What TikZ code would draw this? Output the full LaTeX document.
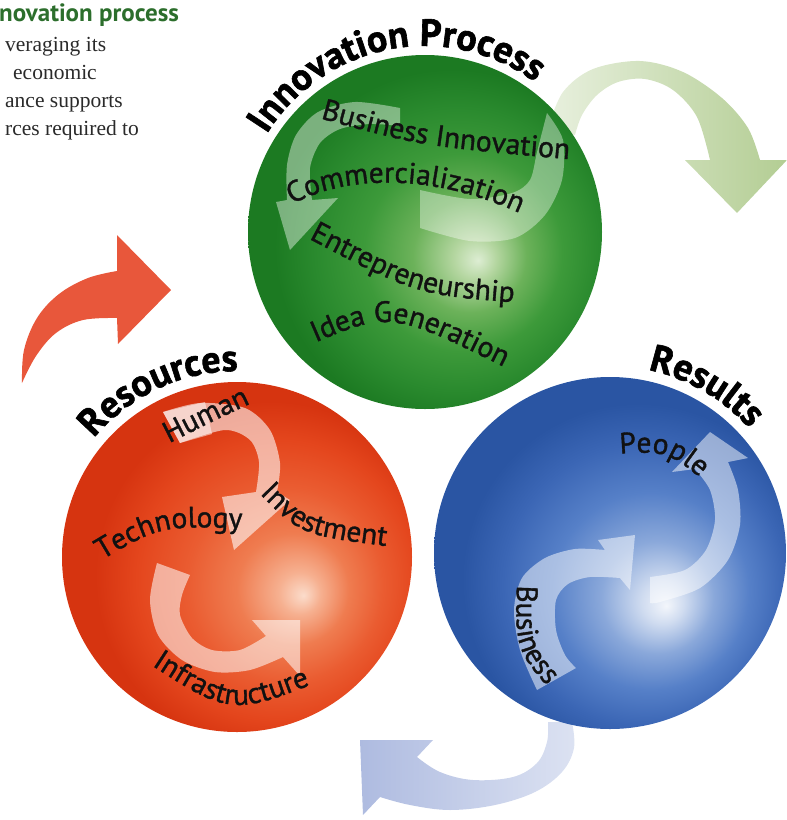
\documentclass[tikz,border=0pt]{standalone}
\usepackage{fontspec}
\setmainfont{Liberation Serif}
\newfontfamily\labelfamily{PT Sans}[FakeBold=1.2]
\newfontfamily\titlefamily{PT Sans}[FakeBold=1.6]
\newfontfamily\headfamily{PT Sans}
\usetikzlibrary{decorations.text}

% sphere colours
\definecolor{gA}{HTML}{DDEDD3}\definecolor{gB}{HTML}{B4D6A0}\definecolor{gC}{HTML}{6CB25A}
\definecolor{gD}{HTML}{3D9A3A}\definecolor{gE}{HTML}{2A8A2E}\definecolor{gF}{HTML}{1C7A22}
\definecolor{rA}{HTML}{FBDCCB}\definecolor{rB}{HTML}{F6B090}\definecolor{rC}{HTML}{EF7C50}
\definecolor{rD}{HTML}{EA5C31}\definecolor{rE}{HTML}{E4461D}\definecolor{rF}{HTML}{D63410}
\definecolor{bA}{HTML}{F3F6FB}\definecolor{bB}{HTML}{D0DCF0}\definecolor{bC}{HTML}{8AA8DA}
\definecolor{bD}{HTML}{5680C8}\definecolor{bE}{HTML}{3B66B5}\definecolor{bF}{HTML}{2A55A3}
% outer arrows and heading
\definecolor{ogL}{HTML}{E8F0DE}\definecolor{ogR}{HTML}{B3CD93}
\definecolor{orr}{HTML}{E8573B}
\definecolor{obL}{HTML}{AEBBE0}\definecolor{obR}{HTML}{DCE2F2}
\definecolor{headgreen}{HTML}{2C6E2C}
\definecolor{bodytext}{HTML}{2A2A2A}
\definecolor{labelink}{HTML}{111111}

% radial shadings: the sphere rim sits at 25bp, the highlight is off-centre
\pgfdeclareradialshading{greenball}{\pgfpoint{7.5bp}{-4bp}}{color(0bp)=(gA); color(3bp)=(gB); color(8bp)=(gC); color(14bp)=(gD); color(20bp)=(gE); color(25bp)=(gF); color(50bp)=(gF)}
\pgfdeclareradialshading{redball}{\pgfpoint{9.5bp}{-5.5bp}}{color(0bp)=(rA); color(3bp)=(rB); color(8bp)=(rC); color(14bp)=(rD); color(20bp)=(rE); color(25bp)=(rF); color(50bp)=(rF)}
\pgfdeclareradialshading{blueball}{\pgfpoint{8bp}{-7.5bp}}{color(0bp)=(bA); color(3bp)=(bB); color(8bp)=(bC); color(14bp)=(bD); color(20bp)=(bE); color(25bp)=(bF); color(50bp)=(bF)}

\newcommand\mylabelfont{\labelfamily\fontsize{29.5pt}{31pt}\selectfont}
\newcommand\mytitlefont{\titlefamily\bfseries\fontsize{38pt}{40pt}\selectfont}

\begin{document}
\begin{tikzpicture}[x=1pt,y=1pt,
  inarrow/.style={fill=white, fill opacity=#1},
  inarrow/.default=0.5,
  lbltext/.style={decorate, decoration={text along path, text align=center, text color=labelink, text={|\mylabelfont|#1}}},
  ttltext/.style={decorate, decoration={text along path, text align=center, text={|\mytitlefont|#1}}},
  bodyline/.style={anchor=base west, inner sep=0pt, text=bodytext, font=\fontsize{21.5pt}{24pt}\selectfont}]

\useasboundingbox (0,0) rectangle (787,-820);

\coordinate (G) at (425,-232);
\coordinate (R) at (237,-557);
\coordinate (B) at (610,-553);

% text block at the top left
\node[anchor=base west, inner sep=0pt, text=headgreen, font=\headfamily\bfseries\fontsize{25pt}{27pt}\selectfont] (head) at (-1,-21) {novation process};
\node[bodyline] (l1) at (5,-51) {veraging its};
\node[bodyline] (l2) at (13,-79) {economic};
\node[bodyline] (l3) at (5,-107) {ance supports};
\node[bodyline] (l4) at (5,-135) {rces required to};

% outer cycle arrows
\shade[left color=ogL, right color=ogR]
  plot[smooth, tension=0.55] coordinates {(548,-128) (563,-92) (593,-69) (640,-61) (683,-72) (722,-98) (748,-128) (760,-160)}
  -- (787,-160) -- (737,-213) -- (685,-160) -- (710,-160)
  -- plot[smooth, tension=0.55] coordinates {(710,-160) (697,-117) (673,-90) (645,-79) (618,-82) (597,-95) (582,-115) (575,-135)}
  -- cycle;

\fill[orr]
  plot[smooth, tension=0.6] coordinates {(22,-383) (24,-350) (37,-318) (59,-294) (88,-278) (117,-271)}
  -- (117,-235) -- (171,-290) -- (118,-344) -- (117,-318)
  -- plot[smooth, tension=0.6] coordinates {(117,-318) (83,-320) (56,-333) (36,-356) (22,-383)}
  -- cycle;

\shade[left color=obL, right color=obR]
  (360,-740) -- (433,-740) -- (417,-757)
  -- plot[smooth, tension=0.6] coordinates {(417,-757) (440,-772) (473,-780) (513,-777) (537,-763) (547,-742) (548,-722)}
  -- (572,-722)
  -- plot[smooth, tension=0.6] coordinates {(572,-722) (574,-748) (562,-772) (535,-792) (495,-805) (450,-810) (410,-805) (380,-797)}
  -- (363,-815) -- cycle;

% the three spheres
\shade[shading=greenball] (G) circle[radius=177];
\shade[shading=redball] (R) circle[radius=175];
\shade[shading=blueball] (B) circle[radius=176];

% translucent arrows inside the green sphere
\begin{scope}
  \clip (G) circle[radius=177];
  \fill[inarrow=0.42]
    plot[smooth] coordinates {(400,-108) (355,-102) (318,-112) (296,-135) (287,-165) (287,-200)}
    -- (276,-202) -- (290,-250) -- (338,-198) -- (312,-200)
    -- plot[smooth] coordinates {(312,-200) (310,-168) (320,-143) (340,-129) (370,-124) (400,-126)}
    -- cycle;
  \fill[inarrow=0.38]
    plot[smooth] coordinates {(547,-113) (563,-140) (562,-180) (545,-215) (515,-238) (470,-241) (420,-228)}
    -- (420,-190)
    -- plot[smooth] coordinates {(420,-190) (470,-199) (512,-193) (530,-180) (537,-152) (547,-113)}
    -- cycle;
\end{scope}

% translucent arrows inside the red sphere
\begin{scope}
  \clip (R) circle[radius=175];
  \fill[inarrow=0.58]
    plot[smooth] coordinates {(163,-412) (200,-403) (245,-408) (270,-430) (280,-463) (277,-492)}
    -- (290,-500) -- (234,-550) -- (222,-497) -- (256,-492)
    -- plot[smooth] coordinates {(256,-492) (259,-462) (250,-440) (225,-430) (180,-443)}
    -- cycle;
  % brighter tail under the first word
  \fill[inarrow=0.5] (163,-412) -- (205,-402) -- (212,-434) -- (180,-443) -- cycle;
  \fill[inarrow=0.55]
    plot[smooth] coordinates {(157,-563) (150,-600) (158,-635) (182,-660) (215,-672) (250,-670) (283,-657)}
    -- (300,-676) -- (300,-620) -- (252,-620) -- (266,-636)
    -- plot[smooth] coordinates {(266,-636) (240,-650) (212,-650) (192,-638) (180,-615) (182,-595) (190,-575)}
    -- cycle;
\end{scope}

% translucent arrows inside the blue sphere
\begin{scope}
  \clip (B) circle[radius=176];
  \fill[inarrow=0.5]
    plot[smooth] coordinates {(537,-690) (520,-650) (514,-610) (522,-578) (545,-558) (575,-549) (605,-550)}
    -- (598,-540) -- (635,-535) -- (630,-590) -- (620,-578)
    -- plot[smooth] coordinates {(620,-578) (590,-577) (568,-584) (556,-600) (556,-630) (565,-655) (576,-668)}
    -- cycle;
  \fill[inarrow=0.5]
    plot[smooth] coordinates {(650,-577) (685,-570) (706,-550) (715,-520) (710,-490) (695,-469)}
    -- (672,-472) -- (710,-432) -- (748,-458) -- (728,-462)
    -- plot[smooth] coordinates {(728,-462) (738,-490) (740,-525) (728,-560) (700,-588) (660,-602) (650,-603)}
    -- cycle;
\end{scope}

% sphere titles along arcs
\path[ttltext=Innovation Process] ([shift={(425,-232)}]172:186) arc[start angle=172, end angle=30, radius=186];
\path[ttltext=Resources] ([shift={(237,-557)}]175:186) arc[start angle=175, end angle=55, radius=186];
\path[ttltext=Results] ([shift={(610,-553)}]120:187) arc[start angle=120, end angle=0, radius=187];

% labels inside the green sphere
\path[lbltext=Business Innovation] (312,-116) .. controls (420,-146) .. (578,-160);
\path[lbltext=Commercialization] (284,-209) .. controls (330,-180) and (420,-165) .. (528,-217);
\path[lbltext=Entrepreneurship] (300,-234) .. controls (416,-295) .. (524,-303);
\path[lbltext=Idea Generation] (303,-348) .. controls (390,-310) .. (516,-373);

% labels inside the red sphere
\path[lbltext=Human] (164,-446) .. controls (205,-425) .. (256,-401);
\path[lbltext=Investment] (254,-488) .. controls (300,-535) .. (394,-547);
\path[lbltext=Technology] (92,-566) .. controls (160,-525) .. (254,-529);
\path[lbltext=Infrastructure] (136,-655) .. controls (230,-717) .. (328,-678);

% labels inside the blue sphere
\path[lbltext=People] (604,-455) .. controls (668,-450) .. (712,-488);
\path[lbltext=Business] (518,-566) .. controls (514,-650) .. (560,-700);

\end{tikzpicture}
\end{document}
